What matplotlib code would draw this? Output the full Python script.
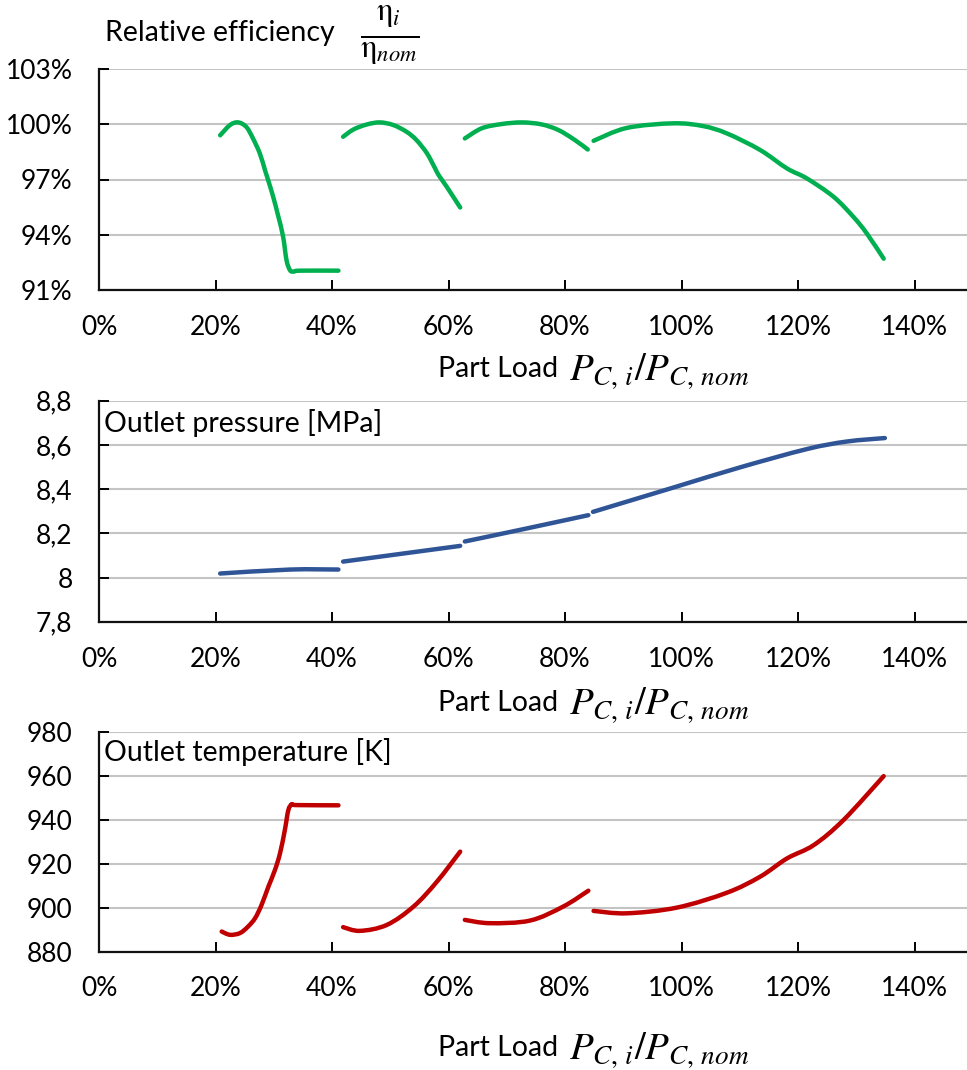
import matplotlib
matplotlib.use("Agg")
import matplotlib.pyplot as plt
import numpy as np
from matplotlib.path import Path
from matplotlib.patches import PathPatch
from matplotlib.ticker import FuncFormatter

plt.rcParams['font.family'] = ['Lato', 'DejaVu Sans']
plt.rcParams['mathtext.fontset'] = 'stix'

# ---- data (part load as fraction of nominal) ----
eff_seg1_x = [0.208, 0.225, 0.239, 0.253, 0.264, 0.276, 0.285, 0.291, 0.299, 0.308,
              0.316, 0.322, 0.328, 0.334, 0.345, 0.411]
eff_seg1_y = [99.4, 99.96, 100.1, 99.85, 99.25, 98.42, 97.5, 96.9, 96.06, 94.97,
              93.9, 92.6, 92.07, 92.0, 92.05, 92.05]
eff_seg2_x = [0.419, 0.437, 0.460, 0.482, 0.505, 0.528, 0.545, 0.563, 0.577, 0.583, 0.597, 0.620]
eff_seg2_y = [99.32, 99.72, 99.99, 100.1, 99.96, 99.59, 99.14, 98.42, 97.6, 97.24, 96.6, 95.48]
eff_seg3_x = [0.628, 0.657, 0.691, 0.726, 0.760, 0.789, 0.817, 0.839]
eff_seg3_y = [99.23, 99.78, 100.01, 100.1, 99.99, 99.68, 99.14, 98.63]
eff_seg4_x = [0.849, 0.906, 0.986, 1.037, 1.078, 1.135, 1.181, 1.215, 1.261, 1.295, 1.318, 1.347]
eff_seg4_y = [99.1, 99.8, 100.05, 99.9, 99.5, 98.6, 97.6, 97.06, 96.06, 94.97, 94.07, 92.7]

pres_seg1_x = [0.208, 0.328, 0.411]
pres_seg1_y = [8.018, 8.036, 8.036]
pres_seg2_x = [0.419, 0.620]
pres_seg2_y = [8.072, 8.143]
pres_seg3_x = [0.628, 0.729, 0.840]
pres_seg3_y = [8.163, 8.219, 8.282]
pres_seg4_x = [0.848, 0.986, 1.100, 1.215, 1.283, 1.349]
pres_seg4_y = [8.297, 8.407, 8.498, 8.581, 8.615, 8.631]

temp_seg1_x = [0.2106, 0.2249, 0.242, 0.256, 0.268, 0.279, 0.2907, 0.302, 0.3107,
               0.319, 0.325, 0.331, 0.339, 0.411]
temp_seg1_y = [889.1, 887.6, 888.4, 891.4, 895.2, 901.2, 909.5, 917.1, 924.7,
               935.3, 944.4, 947.0, 946.7, 946.6]
temp_seg2_x = [0.419, 0.448, 0.494, 0.540, 0.580, 0.620]
temp_seg2_y = [891.1, 889.4, 892.1, 900.5, 911.8, 925.5]
temp_seg3_x = [0.628, 0.671, 0.740, 0.797, 0.840]
temp_seg3_y = [894.4, 892.9, 894.1, 900.5, 907.7]
temp_seg4_x = [0.849, 0.906, 0.992, 1.078, 1.135, 1.181, 1.227, 1.278, 1.347]
temp_seg4_y = [898.5, 897.4, 900.0, 906.8, 914.1, 922.4, 928.5, 939.9, 959.9]

x_ticks = [0.0, 0.2, 0.4, 0.6, 0.8, 1.0, 1.2, 1.4]

GREEN = '#00B050'
BLUE = '#2F5597'
RED = '#C00000'

W, H = 967, 1070
fig = plt.figure(figsize=(W / 100, H / 100), dpi=100)


def ax_rect(top_px, bottom_px, left_px=99, right_px=967):
    return [left_px / W, 1 - bottom_px / H, (right_px - left_px) / W, (bottom_px - top_px) / H]


def smooth_line(ax, xs, ys, color, lw=3.2):
    """Draw a smoothed (Catmull-Rom style Bezier) line through the points."""
    pts = np.column_stack([xs, ys]).astype(float)
    n = len(pts)
    verts = [pts[0]]
    codes = [Path.MOVETO]
    for i in range(n - 1):
        p_prev = pts[i - 1] if i > 0 else pts[i]
        p_next = pts[i + 2] if i + 2 < n else pts[i + 1]
        c1 = pts[i] + (pts[i + 1] - p_prev) / 6.0
        c2 = pts[i + 1] - (p_next - pts[i]) / 6.0
        verts += [c1, c2, pts[i + 1]]
        codes += [Path.CURVE4] * 3
    patch = PathPatch(Path(verts, codes), facecolor='none', edgecolor=color, lw=lw,
                      capstyle='round', joinstyle='round', zorder=3)
    ax.add_patch(patch)


def style(ax, ylim, yticks, yfmt):
    ax.set_xlim(0, 1.49)
    ax.set_ylim(*ylim)
    ax.set_xticks(x_ticks)
    ax.xaxis.set_major_formatter(FuncFormatter(lambda v, p: f"{v * 100:.0f}%"))
    ax.set_yticks(yticks)
    ax.yaxis.set_major_formatter(FuncFormatter(yfmt))
    for s in ('top', 'right'):
        ax.spines[s].set_visible(False)
    for s in ('left', 'bottom'):
        ax.spines[s].set_linewidth(1.6)
        ax.spines[s].set_color('#111111')
    ax.grid(axis='y', color='#c4c4c4', linewidth=1.5)
    ax.set_axisbelow(True)
    ax.tick_params(axis='x', direction='in', length=7, width=1.4, pad=18, labelsize=19)
    ax.tick_params(axis='y', direction='in', length=7, width=1.4, pad=19, labelsize=19)
    ax.get_xticklines()[0].set_visible(False)


def xlabel(y_px):
    fig.text(438 / W, 1 - y_px / H, "Part Load", fontsize=20.5, va='center', ha='left')
    fig.text(569 / W, 1 - (y_px + 2) / H, r"$P_{C,\,i}/P_{C,\,nom}$", fontsize=28,
             va='center', ha='left')


# ---- relative efficiency ----
ax1 = fig.add_axes(ax_rect(69, 290))
for xs, ys in ((eff_seg1_x, eff_seg1_y), (eff_seg2_x, eff_seg2_y),
               (eff_seg3_x, eff_seg3_y), (eff_seg4_x, eff_seg4_y)):
    smooth_line(ax1, xs, ys, GREEN)
style(ax1, (91, 103), [91, 94, 97, 100, 103], lambda v, p: f"{v:.0f}%")
fig.text(105 / W, 1 - 33 / H, "Relative efficiency", fontsize=20.5, va='center', ha='left')
fig.text(390 / W, 1 - 36 / H, r"$\frac{\mathrm{\eta}_{i}}{\mathrm{\eta}_{nom}}$", fontsize=33,
         va='center', ha='center')
xlabel(369)

# ---- outlet pressure ----
ax2 = fig.add_axes(ax_rect(400.7, 621.7))
for xs, ys in ((pres_seg1_x, pres_seg1_y), (pres_seg2_x, pres_seg2_y),
               (pres_seg3_x, pres_seg3_y), (pres_seg4_x, pres_seg4_y)):
    smooth_line(ax2, xs, ys, BLUE)
style(ax2, (7.8, 8.8), [7.8, 8.0, 8.2, 8.4, 8.6, 8.8],
      lambda v, p: ("8" if abs(v - 8) < 1e-9 else f"{v:.1f}".replace('.', ',')))
ax2.text(0.006, 0.90, "Outlet pressure [MPa]", transform=ax2.transAxes, fontsize=20.5,
         va='center', ha='left')
xlabel(703)

# ---- outlet temperature ----
ax3 = fig.add_axes(ax_rect(732, 951.5))
for xs, ys in ((temp_seg1_x, temp_seg1_y), (temp_seg2_x, temp_seg2_y),
               (temp_seg3_x, temp_seg3_y), (temp_seg4_x, temp_seg4_y)):
    smooth_line(ax3, xs, ys, RED)
style(ax3, (880, 980), [880, 900, 920, 940, 960, 980], lambda v, p: f"{v:.0f}")
ax3.text(0.006, 0.91, "Outlet temperature [K]", transform=ax3.transAxes, fontsize=20.5,
         va='center', ha='left')
xlabel(1048)

fig.savefig("out.png", dpi=100)
